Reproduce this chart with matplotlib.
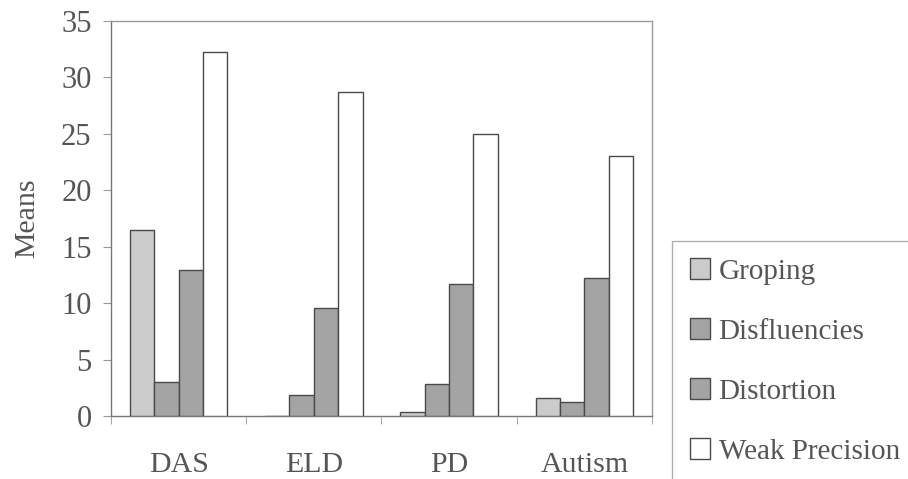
import numpy as np
import matplotlib
matplotlib.use("Agg")
import matplotlib.pyplot as plt

groups = ['DAS', 'ELD', 'PD', 'Autism']
series = ['Groping', 'Disfluencies', 'Distortion', 'Weak Precision']
groping = [16.5, 0.0, 0.35, 1.6]
disfluencies = [3.0, 1.9, 2.8, 1.25]
distortion = [12.9, 9.6, 11.7, 12.2]
weak_precision = [32.2, 28.7, 25.0, 23.0]

values = [groping, disfluencies, distortion, weak_precision]
colors = ['#cbcbcb', '#a4a4a4', '#a4a4a4', '#ffffff']
txt = '#555555'
edge = '#4a4a4a'

plt.rcParams['font.family'] = ['Liberation Serif', 'DejaVu Serif']

fig = plt.figure(figsize=(9.08, 4.79), dpi=100)
ax = fig.add_axes([0.1222, 0.1315, 0.5958, 0.8255])

x = np.arange(len(groups))
w = 0.18
for i, (name, vals) in enumerate(zip(series, values)):
    ax.bar(x + (i - 1.5) * w, vals, width=w, color=colors[i],
           edgecolor=edge, linewidth=1.0, label=name, zorder=3)

ax.set_xlim(-0.5, 3.5)
ax.set_ylim(0, 35)
ax.set_yticks(range(0, 36, 5))
ax.set_xticks(x)
ax.set_xticklabels(groups)
ax.set_xticks(np.arange(-0.5, 4, 1), minor=True)
ax.tick_params(axis='x', which='major', length=0, pad=26, labelsize=21.5, labelcolor=txt)
ax.tick_params(axis='x', which='minor', length=6, color='#999999', direction='out')
ax.tick_params(axis='y', length=6, color='#999999', pad=8, labelsize=22, labelcolor=txt)

for s in ax.spines.values():
    s.set_color('#9a9a9a')
    s.set_linewidth(1.0)
ax.spines['bottom'].set_color('#777777')
ax.spines['left'].set_color('#777777')

ax.set_ylabel('Means', fontsize=21.5, color=txt, labelpad=15)

leg = fig.legend(loc='upper left', bbox_to_anchor=(672 / 908, 1 - 241 / 479),
                 fontsize=21, frameon=True, fancybox=False, borderpad=0.6,
                 labelspacing=1.15, handlelength=0.7, handleheight=0.7,
                 handletextpad=0.3, borderaxespad=0)
leg.get_frame().set_edgecolor('#9a9a9a')
leg.get_frame().set_linewidth(1.0)
for t in leg.get_texts():
    t.set_color(txt)

fig.savefig('out.png', dpi=100)
